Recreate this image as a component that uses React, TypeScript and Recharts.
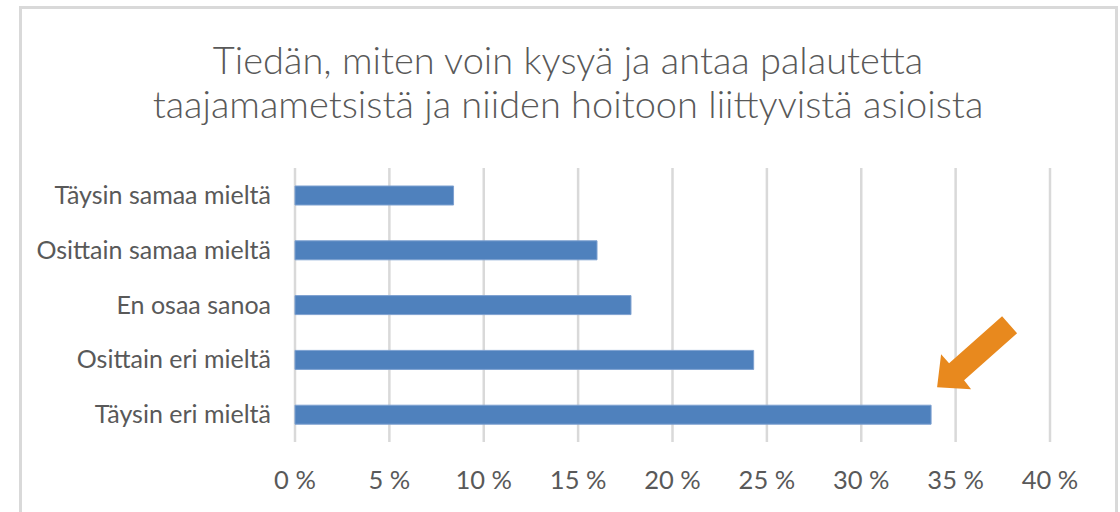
import React from "react";
import { BarChart, Bar, XAxis, YAxis, CartesianGrid, LabelList } from "recharts";

const categories = [
  "Täysin samaa mieltä",
  "Osittain samaa mieltä",
  "En osaa sanoa",
  "Osittain eri mieltä",
  "Täysin eri mieltä",
];
const shares = [8.4, 16.0, 17.8, 24.3, 33.7];
const xTicks = [0, 5, 10, 15, 20, 25, 30, 35, 40];
const titleLines = [
  "Tiedän, miten voin kysyä ja antaa palautetta",
  "taajamametsistä ja niiden hoitoon liittyvistä asioista",
];
const highlightCategory = "Täysin eri mieltä";

const data = categories.map((name, i) => ({ name, value: shares[i] }));

const FONT = "Lato, 'Open Sans', sans-serif";
const TEXT = "#595959";

const YTick = (props: any) => {
  const { x, y, payload } = props;
  return (
    <text x={x - 24} y={y + 8.5} textAnchor="end" fill={TEXT} fontFamily={FONT} fontSize={25}>
      {payload.value}
    </text>
  );
};

const XTick = (props: any) => {
  const { x, y, payload } = props;
  return (
    <text x={x} y={y + 47} textAnchor="middle" fill={TEXT} fontFamily={FONT} fontSize={25.5}>
      {`${payload.value} %`}
    </text>
  );
};

const ArrowLabel = (props: any) => {
  const { x, y, width, index } = props;
  if (data[index]?.name !== highlightCategory) return null;
  const tx = x + width + 6;
  const ty = y - 18;
  const pts = [
    [0, 0],
    [4, -33],
    [12, -24],
    [65, -71],
    [80, -54],
    [27, -7],
    [34, 2],
  ]
    .map(([dx, dy]) => `${tx + dx},${ty + dy}`)
    .join(" ");
  return <polygon points={pts} fill="#E8891E" />;
};

export default function App() {
  return (
    <div
      style={{
        position: "absolute",
        left: 0,
        top: 0,
        width: 1120,
        height: 512,
        overflow: "hidden",
        background: "#ffffff",
      }}
    >
      <div
        style={{
          position: "absolute",
          left: 19,
          top: 6,
          width: 1099,
          height: 540,
          border: "3px solid #d9d9d9",
          boxSizing: "border-box",
        }}
      />
      <div
        style={{
          position: "absolute",
          left: 20,
          top: 37,
          width: 1096,
          textAlign: "center",
          fontFamily: FONT,
          fontWeight: 300,
          fontSize: 38,
          lineHeight: "44px",
          color: TEXT,
        }}
      >
        {titleLines.map((t) => (
          <div key={t}>{t}</div>
        ))}
      </div>
      <div style={{ position: "absolute", left: 0, top: 0 }}>
        <BarChart
          width={1120}
          height={512}
          data={data}
          layout="vertical"
          margin={{ top: 168, right: 70, bottom: 0, left: 0 }}
          barCategoryGap={0}
        >
          <CartesianGrid horizontal={false} stroke="#d9d9d9" strokeWidth={2.5} />
          <XAxis
            type="number"
            domain={[0, 40]}
            ticks={xTicks}
            axisLine={false}
            tickLine={false}
            tickSize={0}
            tickMargin={0}
            height={70}
            tick={<XTick />}
            interval={0}
          />
          <YAxis
            type="category"
            dataKey="name"
            width={295}
            axisLine={false}
            tickLine={false}
            tickSize={0}
            tickMargin={0}
            tick={<YTick />}
            interval={0}
          />
          <Bar dataKey="value" fill="#4F81BD" stroke="#7da0d0" strokeWidth={1} barSize={19} isAnimationActive={false}>
            <LabelList dataKey="value" content={<ArrowLabel />} />
          </Bar>
        </BarChart>
      </div>
    </div>
  );
}
